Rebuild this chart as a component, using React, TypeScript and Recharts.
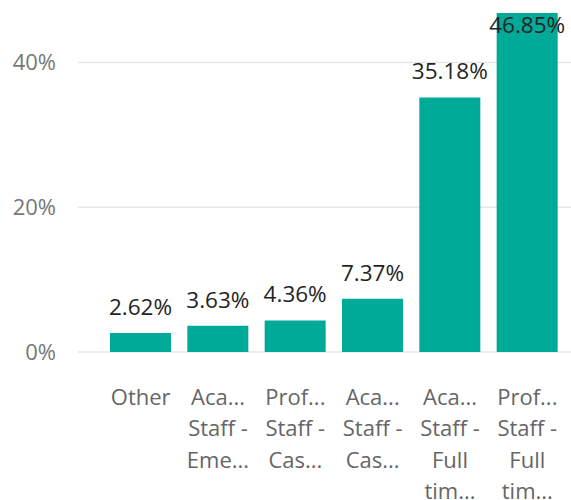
import React from "react";
import { BarChart, Bar, XAxis, YAxis, CartesianGrid, LabelList } from "recharts";

const categories = [
  "Other",
  "Academic Staff - Emeritus",
  "Professional Staff - Casual",
  "Academic Staff - Casual",
  "Academic Staff - Full time",
  "Professional Staff - Full time",
];
const tickLabelLines = [
  ["Other"],
  ["Aca...", "Staff -", "Eme..."],
  ["Prof...", "Staff -", "Cas..."],
  ["Aca...", "Staff -", "Cas..."],
  ["Aca...", "Staff -", "Full", "tim..."],
  ["Prof...", "Staff -", "Full", "tim..."],
];
const shares = [2.62, 3.63, 4.36, 7.37, 35.18, 46.85];
const yTicks = [0, 20, 40];

const data = categories.map((c, i) => ({ name: c, value: shares[i], idx: i }));

const FONT = "'Open Sans', 'Segoe UI', sans-serif";

const CategoryTick = (props: any) => {
  const { x, y, payload } = props;
  const lines = tickLabelLines[payload.index] || [String(payload.value)];
  return (
    <text x={x} y={y} textAnchor="middle" fill="#666666" fontFamily={FONT} fontSize={22}>
      {lines.map((l: string, i: number) => (
        <tspan key={i} x={x} y={y + 53 + i * 31.3}>
          {l}
        </tspan>
      ))}
    </text>
  );
};

const ValueLabel = (props: any) => {
  const { x, y, width, value } = props;
  const ty = y - 18 < 22 ? y + 20 : y - 18;
  return (
    <text
      x={x + width / 2}
      y={ty}
      textAnchor="middle"
      fill="#252423"
      fontFamily={FONT}
      fontSize={22.5}
    >
      {`${Number(value).toFixed(2)}%`}
    </text>
  );
};

export default function App() {
  return (
    <div style={{ position: "fixed", left: 0, top: 0, background: "#fff" }}>
      <BarChart
        width={571}
        height={500}
        data={data}
        margin={{ top: 13, right: 0, bottom: 0, left: 0 }}
      >
        <CartesianGrid vertical={false} stroke="#e6e6e6" strokeWidth={1.5} syncWithTicks />
        <XAxis
          dataKey="name"
          axisLine={false}
          tickLine={false}
          tickSize={0}
          tickMargin={0}
          height={148}
          interval={0}
          padding={{ left: 24, right: 5 }}
          tick={<CategoryTick />}
        />
        <YAxis
          width={78}
          domain={[0, 46.85]}
          ticks={yTicks}
          axisLine={false}
          tickLine={false}
          tickSize={0}
          tickMargin={22}
          tickFormatter={(v: number) => `${v}%`}
          tick={{ fill: "#777777", fontFamily: FONT, fontSize: 22 }}
        />
        <Bar dataKey="value" fill="#00AA98" barSize={61} isAnimationActive={false}>
          <LabelList dataKey="value" content={<ValueLabel />} />
        </Bar>
      </BarChart>
    </div>
  );
}
